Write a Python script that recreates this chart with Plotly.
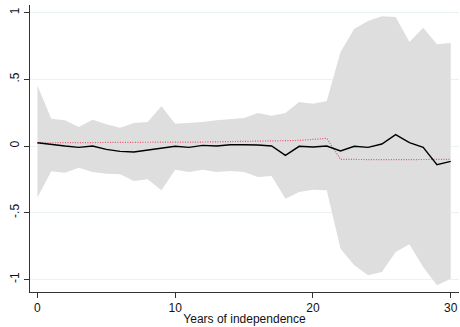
import plotly.graph_objects as go

years = list(range(0, 31))
upper = [0.455, 0.205, 0.193, 0.143, 0.198, 0.163, 0.138, 0.173, 0.18, 0.298,
         0.168, 0.175, 0.18, 0.193, 0.20, 0.21, 0.248, 0.228, 0.248, 0.33,
         0.318, 0.338, 0.705, 0.88, 0.938, 0.973, 0.968, 0.78, 0.888, 0.763, 0.773]
lower = [-0.387, -0.19, -0.20, -0.163, -0.195, -0.208, -0.212, -0.262, -0.25, -0.332,
         -0.177, -0.195, -0.177, -0.195, -0.187, -0.195, -0.232, -0.225, -0.395, -0.345,
         -0.328, -0.332, -0.77, -0.895, -0.97, -0.945, -0.795, -0.737, -0.907, -1.045, -0.995]
estimate = [0.025, 0.01, 0.0, -0.01, 0.0, -0.025, -0.04, -0.045, -0.032, -0.02,
            -0.002, -0.01, 0.005, 0.0, 0.01, 0.01, 0.008, 0.0, -0.07, -0.002,
            -0.007, 0.0, -0.037, -0.002, -0.01, 0.015, 0.085, 0.025, -0.01, -0.14, -0.115]
fitted = [0.024, 0.025, 0.025, 0.026, 0.026, 0.027, 0.027, 0.028, 0.028, 0.029,
          0.029, 0.030, 0.030, 0.031, 0.032, 0.033, 0.034, 0.036, 0.038, 0.042,
          0.050, 0.058, -0.100, -0.102, -0.102, -0.102, -0.102, -0.102, -0.102, -0.102, -0.100]

yticks = [-1, -0.5, 0, 0.5, 1]
ytick_labels = ["-1", "-.5", "0", ".5", "1"]
xticks = [0, 10, 20, 30]
xtick_labels = ["0", "10", "20", "30"]

fig = go.Figure()
fig.add_trace(go.Scatter(x=years, y=upper, mode="lines", line=dict(width=0),
                         hoverinfo="skip", showlegend=False))
fig.add_trace(go.Scatter(x=years, y=lower, mode="lines", line=dict(width=0),
                         fill="tonexty", fillcolor="#dedede",
                         hoverinfo="skip", showlegend=False))
fig.add_trace(go.Scatter(x=years, y=fitted, mode="lines",
                         line=dict(color="#e8506e", width=1.2, dash="1px,1.5px"),
                         showlegend=False))
fig.add_trace(go.Scatter(x=years, y=estimate, mode="lines",
                         line=dict(color="black", width=1.4),
                         showlegend=False))

font = dict(family="Liberation Sans, Arial, sans-serif", size=12, color="#111")
fig.update_layout(
    width=460, height=327,
    margin=dict(l=30, r=1, t=5, b=35, autoexpand=False),
    paper_bgcolor="white", plot_bgcolor="white",
    font=font, showlegend=False,
    xaxis=dict(range=[-0.54, 30.6], tickvals=xticks, ticktext=xtick_labels,
               automargin=False,
               showgrid=False, zeroline=False, showline=True, linecolor="#333",
               linewidth=1, ticks="outside", ticklen=5, tickcolor="#333",
               ticklabelstandoff=0,
               title=dict(text="Years of independence", standoff=0,
                          font=dict(size=12))),
    yaxis=dict(range=[-1.095, 1.058], tickvals=yticks, ticktext=ytick_labels,
               automargin=False,
               tickangle=-90, showgrid=True, gridcolor="#eaf2f2", gridwidth=1,
               zeroline=False, showline=True, linecolor="#333", linewidth=1,
               ticks="outside", ticklen=5, tickcolor="#333"),
)
fig.write_html("out.html", config={"displayModeBar": False},
               post_script="document.body.style.margin='0';document.body.style.padding='0';")
